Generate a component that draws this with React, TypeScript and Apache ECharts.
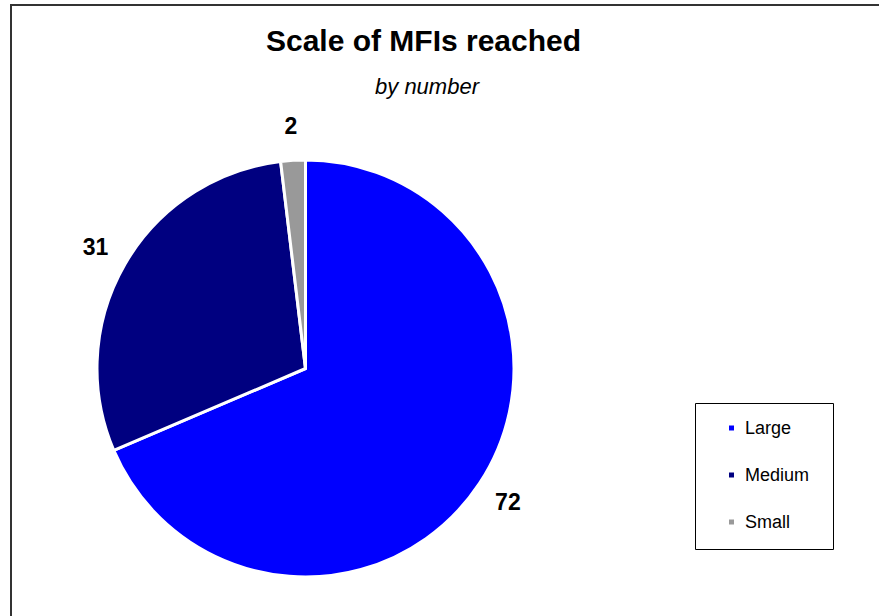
import React, { useEffect, useRef } from "react";
import * as echarts from "echarts";

const categories = ["Large", "Medium", "Small"];
const values = [72, 31, 2];
const colors = ["#0000FF", "#000080", "#999999"];
const titleText = "Scale of MFIs reached";
const subtitleText = "by number";

const W = 879;
const H = 616;
const CX = 305.5;
const CY = 368.5;
const R = 208.5;
const LABEL_R = R + 34;
const FONT = "Arial, 'Liberation Sans', sans-serif";

export default function App() {
  const ref = useRef<HTMLDivElement>(null);

  useEffect(() => {
    if (!ref.current) return;
    const chart = echarts.init(ref.current, undefined, { renderer: "svg" });
    const total = values.reduce((a, b) => a + b, 0);

    chart.setOption({
      animation: false,
      backgroundColor: "#ffffff",
      color: colors,
      textStyle: { fontFamily: FONT },
      graphic: [
        {
          type: "rect",
          z: -10,
          shape: { x: 11, y: 5, width: 2000, height: 2000 },
          style: { fill: "none", stroke: "#333333", lineWidth: 2 },
          silent: true,
        },
        {
          type: "rect",
          z: -10,
          shape: { x: 695.5, y: 403.5, width: 138, height: 146 },
          style: { fill: "none", stroke: "#000000", lineWidth: 1 },
          silent: true,
        },
        {
          type: "text",
          x: 423.5,
          y: 40.5,
          style: {
            text: titleText,
            fontSize: 30,
            fontWeight: "bold",
            fontFamily: FONT,
            fill: "#000",
            align: "center",
            verticalAlign: "middle",
          },
        },
        {
          type: "text",
          x: 427,
          y: 86.5,
          style: {
            text: subtitleText,
            fontSize: 22,
            fontStyle: "italic",
            fontFamily: FONT,
            fill: "#000",
            align: "center",
            verticalAlign: "middle",
          },
        },
      ],
      legend: {
        orient: "vertical",
        left: 727,
        top: 418,
        padding: 0,
        itemGap: 27,
        icon: "rect",
        itemWidth: 7,
        itemHeight: 7,
        selectedMode: false,
        data: categories,
        textStyle: {
          fontSize: 18,
          lineHeight: 20,
          color: "#000",
          fontFamily: FONT,
          padding: [0, 0, 0, 5],
        },
      },
      series: [
        {
          type: "pie",
          center: [CX, CY],
          radius: R,
          startAngle: 90,
          clockwise: true,
          data: categories.map((name, i) => ({ name, value: values[i] })),
          itemStyle: { borderColor: "#ffffff", borderWidth: 3 },
          emphasis: { disabled: true },
          label: {
            show: true,
            position: "outside",
            formatter: "{c}",
            fontSize: 23,
            fontWeight: "bold",
            color: "#000",
            fontFamily: FONT,
          },
          labelLine: { show: false },
          labelLayout: (params: any) => {
            const i = params.dataIndex;
            let before = 0;
            for (let k = 0; k < i; k++) before += values[k];
            const ang = ((before + values[i] / 2) / total) * Math.PI * 2;
            return {
              x: CX + LABEL_R * Math.sin(ang),
              y: CY - LABEL_R * Math.cos(ang),
              align: "center",
              verticalAlign: "middle",
            };
          },
        },
      ],
    });

    return () => chart.dispose();
  }, []);

  return (
    <div
      ref={ref}
      style={{ position: "absolute", left: 0, top: 0, width: W, height: H, background: "#fff" }}
    />
  );
}
